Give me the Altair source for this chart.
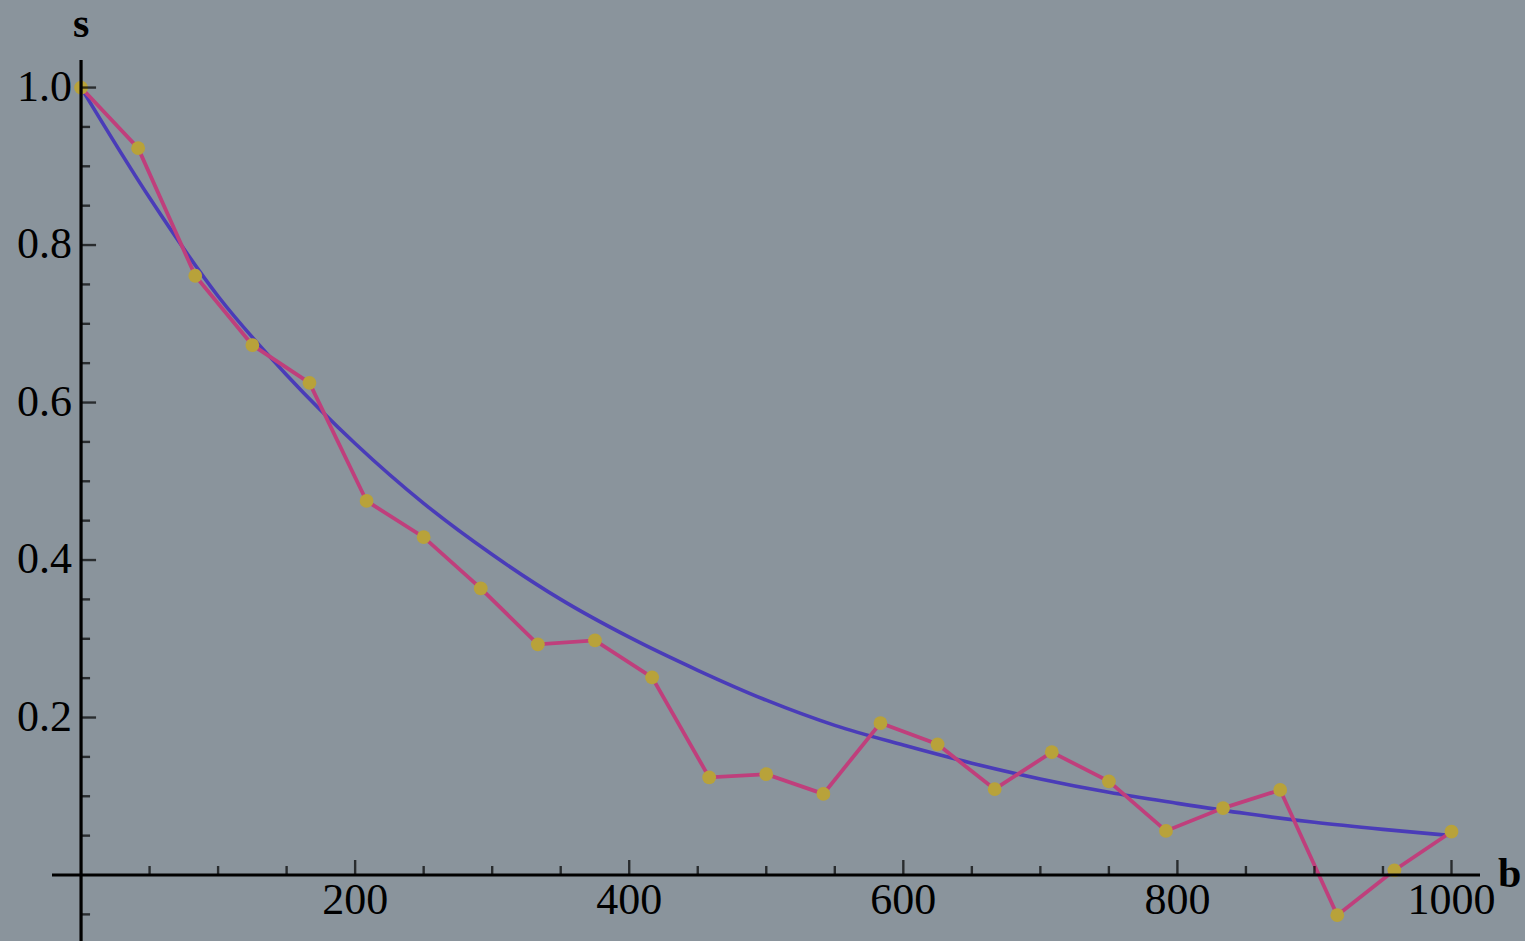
import altair as alt
import pandas as pd

# Measured series (b, s)
b_pts = [i * 1000 / 24 for i in range(25)]
s_pts = [1.0, 0.923, 0.761, 0.673, 0.625, 0.475, 0.429, 0.364, 0.293, 0.298,
         0.251, 0.124, 0.128, 0.103, 0.193, 0.166, 0.109, 0.156, 0.119, 0.056,
         0.085, 0.108, -0.051, 0.006, 0.055]

# Fitted curve
b_fit = [0, 50, 100, 150, 200, 250, 300, 350, 400, 450, 500, 550, 600, 650,
         700, 750, 800, 850, 900, 950, 1000]
s_fit = [1.0, 0.86, 0.735, 0.635, 0.548, 0.472, 0.407, 0.35, 0.302, 0.26,
         0.222, 0.19, 0.165, 0.142, 0.122, 0.105, 0.091, 0.078, 0.067, 0.058,
         0.05]

x_minor = [50, 100, 150, 250, 300, 350, 450, 500, 550, 650, 700, 750, 850, 900, 950]
x_major = [200, 400, 600, 800, 1000]
x_labels = ["200", "400", "600", "800", "1000"]
y_minor = [-0.05, 0.05, 0.1, 0.15, 0.25, 0.3, 0.35, 0.45, 0.5, 0.55, 0.65, 0.7, 0.75, 0.85, 0.9, 0.95]
y_major = [0.2, 0.4, 0.6, 0.8, 1.0]
y_labels = ["0.2", "0.4", "0.6", "0.8", "1.0"]

X_DOMAIN = [-21.2, 1020.8]
Y_DOMAIN = [-0.0838, 1.035]
W, H = 1428, 881
FONT = "Liberation Serif"

xs = alt.Scale(domain=X_DOMAIN, nice=False, zero=False)
ys = alt.Scale(domain=Y_DOMAIN, nice=False, zero=False)
X = lambda f: alt.X(f, type="quantitative", scale=xs, axis=None)
Y = lambda f: alt.Y(f, type="quantitative", scale=ys, axis=None)

pts = pd.DataFrame({"b": b_pts, "s": s_pts})
fit = pd.DataFrame({"b": b_fit, "s": s_fit})

blue = alt.Chart(fit).mark_line(color="#4a3cb8", strokeWidth=3.6, interpolate="monotone").encode(
    x=X("b"), y=Y("s"))
pink = alt.Chart(pts).mark_line(color="#bf3f7c", strokeWidth=3.8).encode(x=X("b"), y=Y("s"))
dots = alt.Chart(pts).mark_circle(color="#b8a23a", opacity=1, size=190).encode(x=X("b"), y=Y("s"))

zero = pd.DataFrame({"z": [0]})
x_axis = alt.Chart(zero).mark_rule(color="black", strokeWidth=3.2).encode(
    y=Y("z"), x=alt.value(0), x2=alt.value(W))
y_axis = alt.Chart(zero).mark_rule(color="black", strokeWidth=3.2).encode(
    x=X("z"), y=alt.value(0), y2=alt.value(H))

xminor_df = pd.DataFrame({"b": x_minor, "z": 0})
xmajor_df = pd.DataFrame({"b": x_major, "z": 0, "lab": x_labels})
yminor_df = pd.DataFrame({"s": y_minor, "z": 0})
ymajor_df = pd.DataFrame({"s": y_major, "z": 0, "lab": y_labels})

xt_minor = alt.Chart(xminor_df).mark_tick(color="black", thickness=2.4, size=9, orient="vertical",
                                          yOffset=-4.5).encode(x=X("b"), y=Y("z"))
xt_major = alt.Chart(xmajor_df).mark_tick(color="black", thickness=2.4, size=15, orient="vertical",
                                          yOffset=-7.5).encode(x=X("b"), y=Y("z"))
yt_minor = alt.Chart(yminor_df).mark_tick(color="black", thickness=2.4, size=9, orient="horizontal",
                                          xOffset=4.5).encode(x=X("z"), y=Y("s"))
yt_major = alt.Chart(ymajor_df).mark_tick(color="black", thickness=2.4, size=15, orient="horizontal",
                                          xOffset=7.5).encode(x=X("z"), y=Y("s"))

x_lab = alt.Chart(xmajor_df).mark_text(font=FONT, fontSize=44, color="black", baseline="top", dy=4).encode(
    x=X("b"), y=Y("z"), text="lab:N")
y_lab = alt.Chart(ymajor_df).mark_text(font=FONT, fontSize=44, color="black", align="right",
                                       baseline="middle", dx=-9).encode(
    x=X("z"), y=Y("s"), text="lab:N")

s_title = alt.Chart(zero).mark_text(text="s", font=FONT, fontSize=42, fontWeight="bold", color="black",
                                    baseline="middle").encode(x=X("z"), y=alt.value(-36))
b_title = alt.Chart(zero).mark_text(text="b", font=FONT, fontSize=42, fontWeight="bold", color="black",
                                    align="left", baseline="alphabetic", dy=12).encode(
    x=alt.value(W + 18), y=Y("z"))

chart = alt.layer(blue, pink, dots, x_axis, y_axis, xt_minor, xt_major, yt_minor, yt_major,
                  x_lab, y_lab, s_title, b_title).properties(
    width=W, height=H,
    background="#8a949c",
    padding={"left": 52, "top": 60, "right": 45, "bottom": 0},
    autosize=alt.AutoSizeParams(type="none"),
).configure_view(stroke=None)

chart.save("out.html", embed_options={"renderer": "svg", "actions": False})
